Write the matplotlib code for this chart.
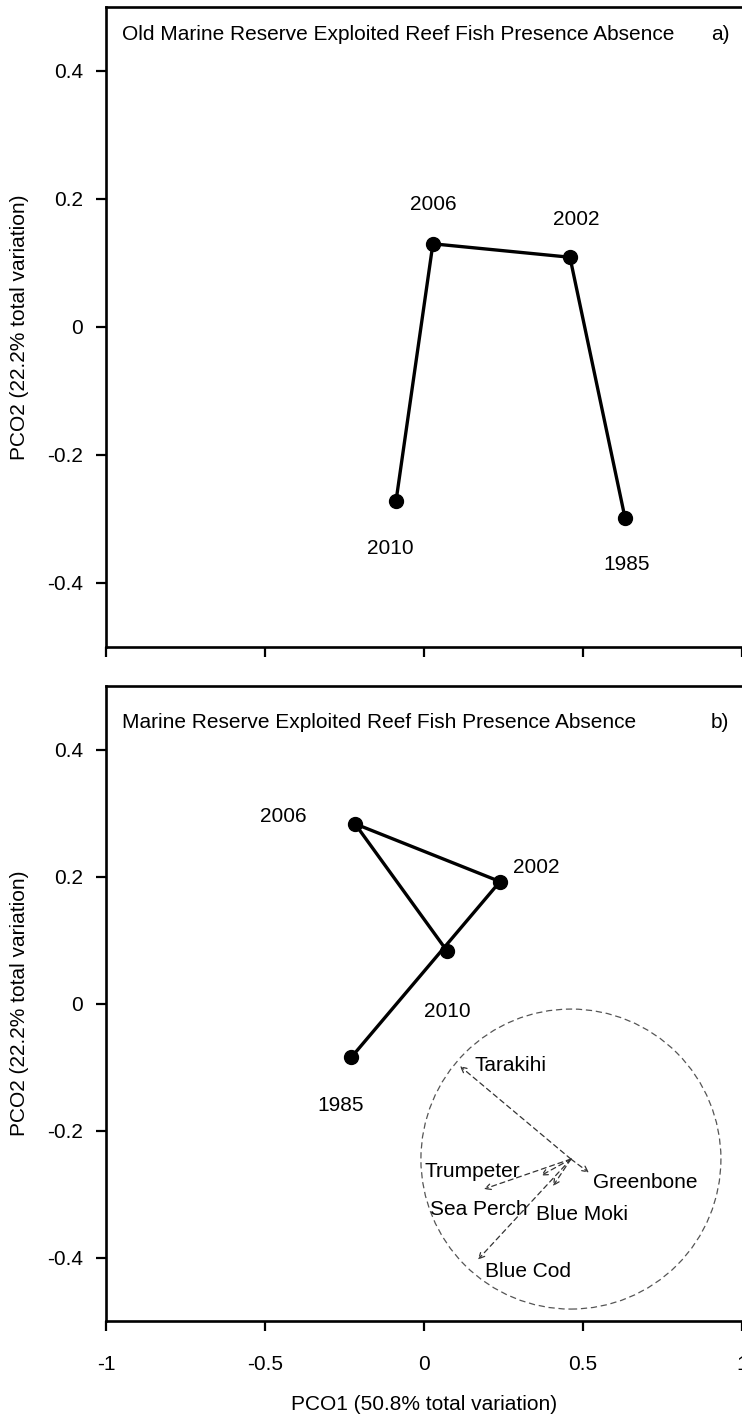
import numpy as np
import matplotlib
matplotlib.use("Agg")
from matplotlib import pyplot as plt
from matplotlib.patches import Ellipse
from matplotlib.ticker import FormatStrFormatter
import matplotlib.transforms as mtransforms

plt.rcParams["font.family"] = ["Liberation Sans", "DejaVu Sans"]
plt.rcParams["axes.unicode_minus"] = False

# data
years = ["1985", "2002", "2006", "2010"]
old_x = [0.632, 0.459, 0.028, -0.088]
old_y = [-0.298, 0.109, 0.130, -0.272]
new_x = [-0.229, 0.239, -0.217, 0.072]
new_y = [-0.085, 0.192, 0.283, 0.083]

# vector overlay (correlations, unit circle)
species = ["Tarakihi", "Greenbone", "Trumpeter", "Sea Perch", "Blue Moki", "Blue Cod"]
vec_x = [-0.74, 0.12, -0.58, -0.20, -0.12, -0.62]
vec_y = [0.62, -0.09, -0.20, -0.11, -0.18, -0.67]
circle_center = (0.462, -0.245)

xticks = [-1, -0.5, 0, 0.5, 1]
yticks = [-0.4, -0.2, 0, 0.2, 0.4]

# layout (pixels)
W, H = 742, 1416
FS = 15
PX = 318.0  # pixels per x unit
XLIM = (-1, 1.05)
YLIM = (-0.5, 0.5)

fig = plt.figure(figsize=(W / 100, H / 100), dpi=100, facecolor="white")


def make_axes(top, bottom):
    width = (XLIM[1] - XLIM[0]) * PX
    ax = fig.add_axes([106 / W, (H - bottom) / H, width / W, (bottom - top) / H])
    ax.set_xlim(XLIM)
    ax.set_ylim(YLIM)
    ax.set_xticks(xticks)
    ax.set_yticks(yticks)
    ax.xaxis.set_major_formatter(FormatStrFormatter("%g"))
    ax.yaxis.set_major_formatter(FormatStrFormatter("%g"))
    for s in ax.spines.values():
        s.set_linewidth(1.9)
    ax.tick_params(direction="out", length=7.5, width=1.6, labelsize=FS)
    ax.tick_params(axis="y", pad=9)
    ax.tick_params(axis="x", pad=17)
    ax.set_ylabel("PCO2 (22.2% total variation)", fontsize=FS)
    ax.yaxis.set_label_coords(-0.118, 0.5)
    return ax


def draw_path(ax, xs, ys, offsets):
    ax.plot(xs, ys, color="black", lw=2.4, marker="o", ms=10, zorder=3)
    for x, y, lab, off in zip(xs, ys, years, offsets):
        ax.annotate(lab, (x, y), xytext=off, textcoords="offset pixels",
                    ha="center", va="center", fontsize=FS)


# panel a
ax1 = make_axes(7, 647)
draw_path(ax1, old_x, old_y, [(2, -47), (6, 38), (0, 39), (-6, -47)])
ax1.tick_params(axis="x", labelbottom=False)
ax1.text(16 / 652, 1 - 28 / 640, "Old Marine Reserve Exploited Reef Fish Presence Absence",
         transform=ax1.transAxes, ha="left", va="center", fontsize=FS)
ax1.text(614 / 652, 1 - 28 / 640, "a)", transform=ax1.transAxes,
         ha="center", va="center", fontsize=FS)

# panel b
ax2 = make_axes(686, 1321)
draw_path(ax2, new_x, new_y, [(-11, -48), (36, 14), (-72, 7), (0, -61)])
ax2.text(16 / 652, 1 - 36 / 635, "Marine Reserve Exploited Reef Fish Presence Absence",
         transform=ax2.transAxes, ha="left", va="center", fontsize=FS)
ax2.text(614 / 652, 1 - 36 / 635, "b)", transform=ax2.transAxes,
         ha="center", va="center", fontsize=FS)
ax2.set_xlabel("PCO1 (50.8% total variation)", fontsize=FS)
trans = mtransforms.blended_transform_factory(ax2.transData, ax2.transAxes)
ax2.xaxis.set_label_coords(0, -0.117, transform=trans)

# correlation circle, radius in pixels converted to data units
R = 150.0
rx = R / PX
ry = R / (635 / (YLIM[1] - YLIM[0]))
ax2.add_patch(Ellipse(circle_center, 2 * rx, 2 * ry, fill=False, ls=(0, (5, 3)),
                      lw=0.9, color="#555555"))
label_off = [(51, 1), (56, -10), (-12, 18), (-62, -34), (29, -28), (50, -12)]
for name, vx, vy, off in zip(species, vec_x, vec_y, label_off):
    tip = (circle_center[0] + vx * rx, circle_center[1] + vy * ry)
    ax2.annotate("", xy=tip, xytext=circle_center,
                 arrowprops=dict(arrowstyle="->", ls=(0, (4, 3)), lw=0.9,
                                 color="#333333", shrinkA=0, shrinkB=0))
    ax2.annotate(name, tip, xytext=off, textcoords="offset pixels",
                 ha="center", va="center", fontsize=FS)

fig.savefig("out.png", dpi=100, facecolor="white")
